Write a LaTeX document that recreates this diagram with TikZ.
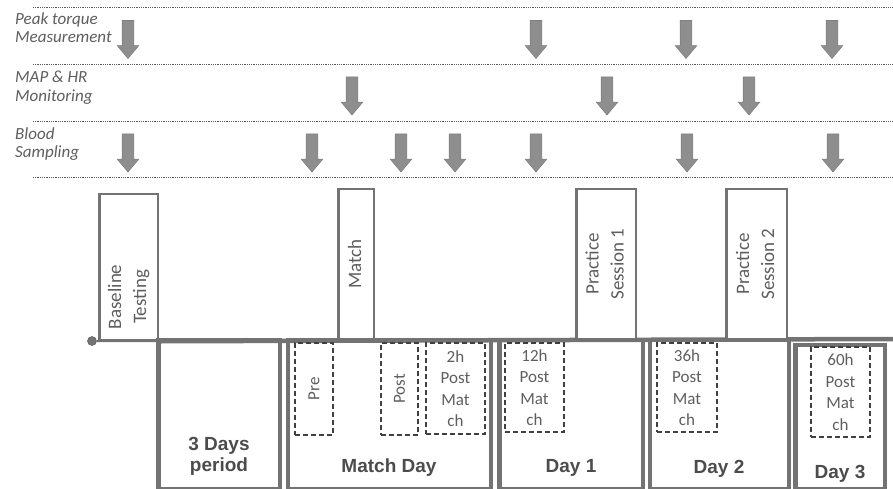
\documentclass[tikz,border=0pt]{standalone}
\usepackage{fontspec}
\setmainfont{Carlito}
\newfontfamily\dayfont{Liberation Sans}
\usetikzlibrary{shapes.arrows,positioning}
\definecolor{framegray}{HTML}{737373}
\definecolor{labelgray}{HTML}{5E5E5E}
\definecolor{markgray}{HTML}{8E8E8E}
\newcommand{\vtext}[1]{\rotatebox{90}{\begin{tabular}{@{}c@{}}#1\end{tabular}}}

\begin{document}
\begin{tikzpicture}[x=1pt, y=-1pt,
    rowlabel/.style={anchor=north west, align=left, inner sep=0pt, text=labelgray, font=\fontsize{17}{18.5}\selectfont\itshape},
    rowline/.style={line width=0.9pt, draw=black!65, dash pattern=on 0.9pt off 0.9pt},
    marker/.style={single arrow, shape border rotate=270, draw=black!50, fill=markgray, line width=0.6pt, minimum height=38pt, inner sep=5.5pt, single arrow head extend=5pt, single arrow tip angle=80},
    evbox/.style={draw=framegray, line width=2.5pt, fill=white, inner sep=0pt, text=labelgray, font=\fontsize{19}{25}\selectfont},
    daybox/.style={draw=framegray, line width=4.5pt, inner sep=0pt},
    tpbox/.style={draw=black!75, line width=1.3pt, dash pattern=on 5pt off 3pt, inner sep=0pt, align=center, text=labelgray, font=\fontsize{17}{21.5}\selectfont},
    daylabel/.style={anchor=base, align=center, inner sep=0pt, text=black!70, font=\dayfont\bfseries\fontsize{19}{21}\selectfont},
]
\useasboundingbox (0,0) rectangle (893,488);

% measurement rows
\foreach \y in {7,64,121,177}
  \draw[rowline] (33,\y) -- (893,\y);
\node[rowlabel] (torque) at (15,12) {Peak torque\\Measurement};
\node[rowlabel] (mapHR) at (15,71) {MAP \& HR\\Monitoring};
\node[rowlabel] (blood) at (15,127) {Blood\\Sampling};

\foreach \x [count=\i] in {128,536,686,832}
  \node[marker] (pt\i) at (\x,36) {};
\foreach \x [count=\i] in {352,607,749}
  \node[marker] (mh\i) at (\x,92.5) {};
\foreach \x [count=\i] in {128,312,401,455,536,687,833}
  \node[marker] (bs\i) at (\x,149.5) {};

% timeline
\node[circle, fill=framegray, draw=black!60, line width=0.6pt, minimum size=9pt, inner sep=0pt] (dot) at (92,341) {};
\coordinate (tend) at (893,339);

\node[evbox, minimum width=58.5pt, minimum height=146pt] (base) at (128.5,267) {};
\node[evbox, draw=none, fill=none, above=11pt of base.south] (baseTxt) {\vtext{Baseline\\Testing}};
\draw[draw=framegray, line width=2pt] (dot) -- (base.south east);
\draw[draw=framegray, line width=4.5pt] (base.south east) -- (tend);

\node[evbox, minimum width=35.5pt, minimum height=150pt] (match) at (356,264) {\vtext{Match}};
\node[evbox, minimum width=59.5pt, minimum height=150pt] (ps1) at (606,264) {\vtext{Practice\\Session 1}};
\node[evbox, minimum width=60.5pt, minimum height=150pt] (ps2) at (756.5,264) {\vtext{Practice\\Session 2}};

% days
\node[daybox, minimum width=121.5pt, minimum height=149pt] (d0) at (219,414.5) {};
\node[daybox, minimum width=203pt, minimum height=149pt] (dm) at (389.25,414.5) {};
\node[daybox, minimum width=143.5pt, minimum height=149pt] (d1) at (571,414.5) {};
\node[daybox, minimum width=139pt, minimum height=149pt] (d2) at (719.25,414.5) {};
\node[daybox, minimum width=89.5pt, minimum height=144pt] (d3) at (840,417) {};

\node[daylabel] (l0) at (219,471) {3 Days\\period};
\node[daylabel] (lm) at (389,472) {Match Day};
\node[daylabel] (l1) at (571,472) {Day 1};
\node[daylabel] (l2) at (719,473) {Day 2};
\node[daylabel] (l3) at (840,478) {Day 3};

% sampling time points
\node[tpbox, minimum width=38pt, minimum height=92pt] (pre) at (314,389) {\rotatebox{90}{Pre}};
\node[tpbox, minimum width=37pt, minimum height=92pt] (post) at (399.5,389) {\rotatebox{90}{Post}};
\node[tpbox, minimum width=59pt, minimum height=91pt] (h2) at (455.5,388.5) {2h\\Post\\Mat\\ch};
\node[tpbox, minimum width=59pt, minimum height=89pt] (h12) at (534.5,387.5) {12h\\Post\\Mat\\ch};
\node[tpbox, minimum width=60pt, minimum height=89pt] (h36) at (687,387.5) {36h\\Post\\Mat\\ch};
\node[tpbox, minimum width=59pt, minimum height=90pt] (h60) at (840.5,392) {60h\\Post\\Mat\\ch};
\end{tikzpicture}
\end{document}
